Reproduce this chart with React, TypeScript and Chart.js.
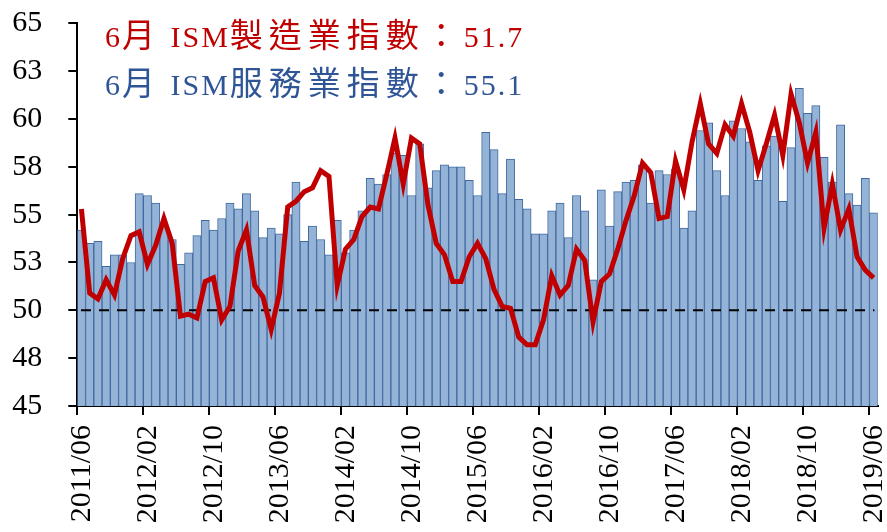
import React, { useEffect, useRef } from "react";
import { Chart, registerables } from "chart.js";

Chart.register(...registerables);

// x-axis tick labels (every 8 months, 2011/06 .. 2019/06)
const tickLabels = [
  "2011/06", "2012/02", "2012/10", "2013/06", "2014/02", "2014/10", "2015/06",
  "2016/02", "2016/10", "2017/06", "2018/02", "2018/10", "2019/06",
];

// y-axis ticks and their printed labels
const yTickValues = [45, 47.5, 50, 52.5, 55, 57.5, 60, 62.5, 65];
const yTickLabels = ["45", "48", "50", "53", "55", "58", "60", "63", "65"];

// ISM Services (non-manufacturing) index, monthly 2011/06 .. 2019/06 (bars)
const servicesPMI = [
  54.2, 53.5, 53.6, 52.3, 52.9, 52.9, 52.5,
  56.1, 56.0, 55.6, 54.4, 53.7, 52.4, 53.0, 53.9, 54.7, 54.2, 54.8, 55.6,
  55.3, 56.1, 55.2, 53.8, 54.3, 54.0, 55.0, 56.7, 53.6, 54.4, 53.7, 52.9,
  54.7, 53.0, 54.2, 55.2, 56.9, 56.6, 57.1, 58.2, 58.1, 56.0, 58.7, 56.4,
  57.3, 57.6, 57.5, 57.5, 56.8, 56.0, 59.3, 58.4, 56.1, 57.9, 55.8, 55.3,
  54.0, 54.0, 55.2, 55.6, 53.8, 56.0, 55.2, 51.6, 56.3, 54.4, 56.2, 56.7,
  56.8, 57.6, 55.6, 57.3, 57.1, 57.4, 54.3, 55.2, 59.4, 59.8, 57.3, 56.0,
  59.9, 59.5, 58.8, 56.8, 58.6, 59.1, 55.7, 58.5, 61.6, 60.3, 60.7, 58.0,
  56.7, 59.7, 56.1, 55.5, 56.9, 55.1,
];

// ISM Manufacturing index, monthly 2011/06 .. 2019/06 (red line)
const manufacturingPMI = [
  55.3, 50.9, 50.6, 51.6, 50.8, 52.7, 53.9,
  54.1, 52.4, 53.4, 54.8, 53.5, 49.7, 49.8, 49.6, 51.5, 51.7, 49.5, 50.2,
  53.1, 54.2, 51.3, 50.7, 49.0, 50.9, 55.4, 55.7, 56.2, 56.4, 57.3, 57.0,
  51.3, 53.2, 53.7, 54.9, 55.4, 55.3, 57.1, 59.0, 56.6, 59.0, 58.7, 55.5,
  53.5, 52.9, 51.5, 51.5, 52.8, 53.5, 52.7, 51.1, 50.2, 50.1, 48.6, 48.2,
  48.2, 49.5, 51.8, 50.8, 51.3, 53.2, 52.6, 49.4, 51.5, 51.9, 53.2, 54.7,
  56.0, 57.7, 57.2, 54.8, 54.9, 57.8, 56.3, 58.8, 60.8, 58.7, 58.2, 59.7,
  59.1, 60.8, 59.3, 57.3, 58.7, 60.2, 58.1, 61.3, 59.8, 57.7, 59.3, 54.3,
  56.6, 54.2, 55.3, 52.8, 52.1, 51.7,
];

const thresholdValue = 50;
const manufacturingLatest = "51.7";
const servicesLatest = "55.1";

const SERIF = '"Liberation Serif", "Times New Roman", "Noto Sans CJK TC", serif';

const zeroPadding = (scale: any) => {
  scale.paddingTop = 0;
  scale.paddingBottom = 0;
  scale.paddingLeft = 0;
  scale.paddingRight = 0;
};

export default function App() {
  const canvasRef = useRef<HTMLCanvasElement | null>(null);

  useEffect(() => {
    const canvas = canvasRef.current;
    if (!canvas) return;
    const n = servicesPMI.length;
    const chart = new Chart(canvas, {
      type: "bar",
      data: {
        datasets: [
          {
            type: "line",
            label: "ISM製造業指數",
            data: manufacturingPMI.map((v, i) => ({ x: i + 0.5, y: v })),
            borderColor: "#C00000",
            backgroundColor: "#C00000",
            borderWidth: 5,
            pointRadius: 0,
            tension: 0,
            order: 1,
          } as any,
          {
            type: "line",
            label: "50",
            data: [
              { x: 0.45, y: thresholdValue },
              { x: n - 0.4, y: thresholdValue },
            ],
            borderColor: "#000000",
            borderWidth: 2,
            borderDash: [10, 8],
            pointRadius: 0,
            order: 2,
          } as any,
          {
            type: "bar",
            label: "ISM服務業指數",
            data: servicesPMI.map((v, i) => ({ x: i + 0.5, y: v })),
            backgroundColor: "#95B3D7",
            borderColor: "#3F6AA0",
            borderWidth: 1,
            categoryPercentage: 1,
            barPercentage: 1,
            order: 3,
          } as any,
        ],
      },
      options: {
        responsive: false,
        animation: false,
        devicePixelRatio: 1,
        layout: { padding: { top: 23.3, right: 9.3, left: 0, bottom: 0 } },
        plugins: {
          legend: { display: false },
          tooltip: { enabled: false },
        },
        scales: {
          x: {
            type: "linear",
            min: 0,
            max: n,
            offset: false,
            grid: {
              offset: false,
              drawOnChartArea: false,
              drawTicks: true,
              tickLength: 9,
              color: "#000000",
              lineWidth: 2,
            },
            border: { display: true, color: "#000000", width: 2 },
            afterBuildTicks: (scale: any) => {
              scale.ticks = tickLabels.map((_, i) => ({ value: i * 8 }));
            },
            afterFit: (scale: any) => {
              scale.height = 126;
              zeroPadding(scale);
            },
            ticks: {
              autoSkip: false,
              minRotation: 90,
              maxRotation: 90,
              padding: 10,
              labelOffset: 5,
              color: "#000000",
              font: { family: SERIF, size: 30 },
              callback: (_v: any, i: number) => tickLabels[i],
            },
          } as any,
          y: {
            type: "linear",
            min: 45,
            max: 65,
            grid: {
              drawOnChartArea: false,
              drawTicks: true,
              tickLength: 9,
              color: "#000000",
              lineWidth: 2,
            },
            border: { display: true, color: "#000000", width: 2 },
            afterBuildTicks: (scale: any) => {
              scale.ticks = yTickValues.map((v) => ({ value: v }));
            },
            afterFit: (scale: any) => {
              scale.width = 77.3;
              zeroPadding(scale);
            },
            ticks: {
              padding: 26,
              color: "#000000",
              font: { family: SERIF, size: 30 },
              callback: (_v: any, i: number) => yTickLabels[i],
            },
          } as any,
        },
      },
    });
    return () => chart.destroy();
  }, []);

  const textBase: React.CSSProperties = {
    position: "absolute",
    left: 105,
    fontFamily: SERIF,
    fontSize: 30,
    lineHeight: "30px",
    letterSpacing: "2px",
    whiteSpace: "nowrap",
  };
  const cjk: React.CSSProperties = { letterSpacing: "6px", fontSize: 33 };

  return (
    <div style={{ position: "absolute", left: 0, top: 0, width: 887, height: 532, background: "#ffffff" }}>
      <canvas ref={canvasRef} width={887} height={532} style={{ display: "block", width: 887, height: 532 }} />
      <div style={{ ...textBase, top: 21, color: "#C00000" }}>
        6<span style={cjk}>月</span> ISM<span style={cjk}>製造業指數：</span>{manufacturingLatest}
      </div>
      <div style={{ ...textBase, top: 69, color: "#2F5597" }}>
        6<span style={cjk}>月</span> ISM<span style={cjk}>服務業指數：</span>{servicesLatest}
      </div>
    </div>
  );
}
